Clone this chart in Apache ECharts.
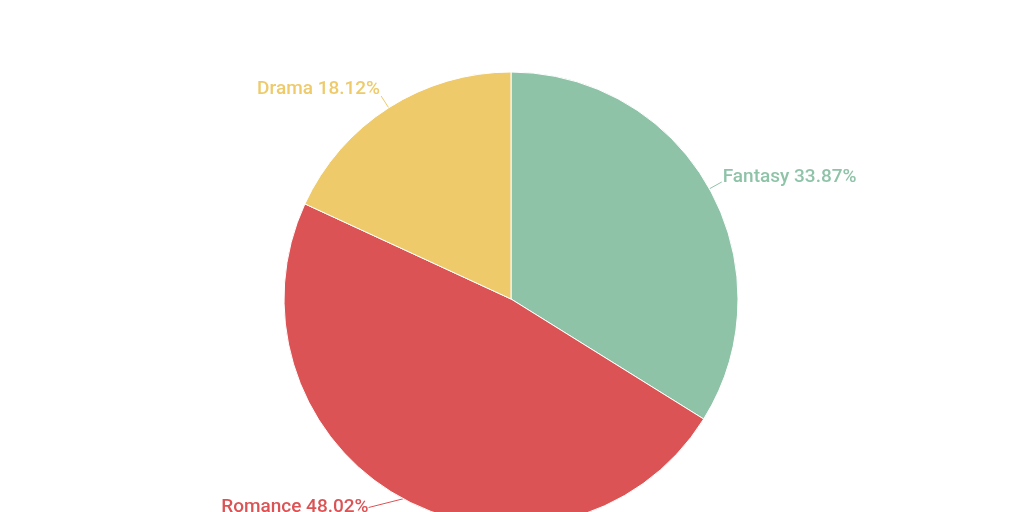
<!DOCTYPE html>
<html><head><meta charset="utf-8">
<script src="https://cdn.jsdelivr.net/npm/echarts@6/dist/echarts.min.js"></script>
<style>html,body{margin:0;padding:0;background:#fff}#c{width:1024px;height:512px}</style>
</head><body><div id="c"></div>
<script>
const categories = ['Fantasy', 'Romance', 'Drama'];
const shares = [33.87, 48.02, 18.12];
const colors = ['#8fc3a8', '#dc5355', '#eeca6b'];

const chart = echarts.init(document.getElementById('c'));
const labelShiftY = [-5, 6, -7];
const labelShiftX = [0, -27, 0];
chart.setOption({
  animation: false,
  color: colors,
  series: [{
    type: 'pie',
    center: [511, 299],
    radius: 227,
    startAngle: 90,
    clockwise: true,
    itemStyle: { borderColor: '#fff', borderWidth: 1 },
    label: {
      formatter: '{b} {c}%',
      fontFamily: 'Roboto',
      fontSize: 19,
      fontWeight: 500,
      distanceToLabelLine: 1
    },
    labelLine: { length: 14, length2: 0, lineStyle: { width: 1 } },
    labelLayout: function (p) {
      const i = p.dataIndex;
      if (i !== 1) return { dy: labelShiftY[i] };
      return {
        x: p.labelRect.x + labelShiftX[i],
        y: p.labelRect.y + labelShiftY[i],
        align: 'left',
        verticalAlign: 'top'
      };
    },
    data: categories.map((c, i) => ({
      name: c, value: shares[i],
      label: { color: colors[i] },
      labelLine: { lineStyle: { color: colors[i] } }
    }))
  }]
});
</script></body></html>
